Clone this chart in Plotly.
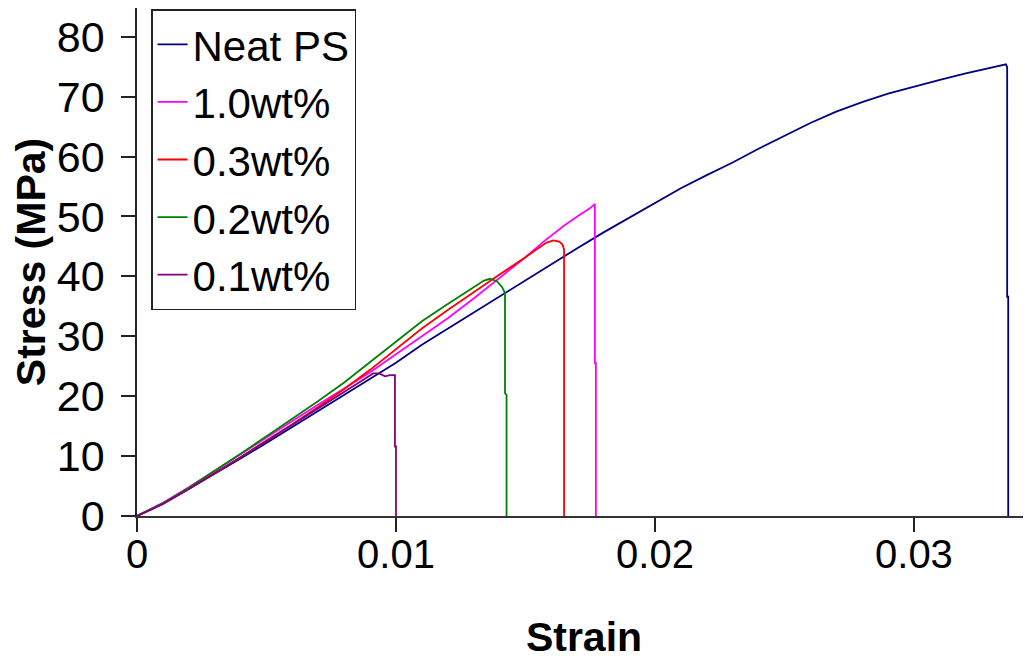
import plotly.graph_objects as go

# ---- data ----
neat_strain = [0, 0.001, 0.002, 0.003, 0.004, 0.005, 0.006, 0.007, 0.008, 0.009, 0.010,
               0.011, 0.012, 0.013, 0.014, 0.015, 0.016, 0.017, 0.018, 0.019, 0.020,
               0.021, 0.022, 0.023, 0.024, 0.025, 0.026, 0.027, 0.028, 0.029, 0.030,
               0.031, 0.032, 0.033, 0.0335, 0.03355, 0.0336, 0.0336, 0.03364, 0.03364]
neat_stress = [0, 2.1, 4.5, 7.0, 9.6, 12.2, 14.9, 17.6, 20.3, 23.0, 25.6,
               28.6, 31.3, 34.0, 36.7, 39.4, 42.0, 44.7, 47.3, 49.8, 52.3,
               54.7, 56.9, 59.0, 61.3, 63.5, 65.6, 67.5, 69.1, 70.5, 71.7,
               72.8, 73.9, 74.8, 75.3, 75.4, 74.9, 36.6, 36.6, 0]

wt10_strain = [0, 0.001, 0.002, 0.003, 0.004, 0.005, 0.006, 0.007, 0.008, 0.009, 0.010,
               0.011, 0.012, 0.013, 0.014, 0.015, 0.0157, 0.0165, 0.017, 0.0175, 0.01768,
               0.01768, 0.01772, 0.01772]
wt10_stress = [0, 2.2, 4.8, 7.5, 10.3, 13.1, 15.9, 18.6, 21.3, 24.0, 27.0,
               30.0, 33.0, 36.3, 39.7, 43.2, 45.8, 48.5, 50.0, 51.4, 52.1,
               25.5, 25.5, 0]

wt03_strain = [0, 0.001, 0.002, 0.003, 0.004, 0.005, 0.006, 0.007, 0.008, 0.009, 0.010,
               0.011, 0.012, 0.013, 0.014, 0.015, 0.0155, 0.0158, 0.01607, 0.0163, 0.01643,
               0.01649, 0.01649]
wt03_stress = [0, 2.0, 4.5, 7.1, 9.8, 12.6, 15.3, 18.2, 21.2, 24.4, 27.8,
               31.3, 34.4, 37.4, 40.3, 43.2, 44.7, 45.6, 46.0, 45.8, 45.3,
               44.5, 0]

wt02_strain = [0, 0.001, 0.002, 0.003, 0.004, 0.005, 0.006, 0.007, 0.008, 0.009, 0.010,
               0.011, 0.012, 0.0125, 0.013, 0.0134, 0.01363, 0.0139, 0.0141, 0.01421,
               0.01421, 0.01427, 0.01427]
wt02_stress = [0, 2.1, 4.7, 7.5, 10.4, 13.3, 16.2, 19.2, 22.3, 25.7, 29.2,
               32.5, 35.4, 36.8, 38.3, 39.3, 39.6, 39.2, 38.2, 37.2,
               20.5, 20.2, 0]

wt01_strain = [0, 0.001, 0.002, 0.003, 0.004, 0.005, 0.006, 0.007, 0.008, 0.0088, 0.00912,
               0.00935, 0.00958, 0.00977, 0.00996, 0.00996, 0.0100, 0.0100]
wt01_stress = [0, 2.0, 4.5, 7.1, 9.8, 12.5, 15.2, 17.9, 20.7, 22.9, 23.8,
               23.8, 23.3, 23.5, 23.5, 11.6, 11.6, 0]

series_names = ["Neat PS", "1.0wt%", "0.3wt%", "0.2wt%", "0.1wt%"]
series_x = [neat_strain, wt10_strain, wt03_strain, wt02_strain, wt01_strain]
series_y = [neat_stress, wt10_stress, wt03_stress, wt02_stress, wt01_stress]
series_colors = ["#000080", "#FF00FF", "#FF0000", "#008000", "#800080"]

x_tick_vals = [0, 0.01, 0.02, 0.03]
x_tick_text = ["0", "0.01", "0.02", "0.03"]
y_tick_vals = [0, 10, 20, 30, 40, 50, 60, 70, 80]

FONT = "Liberation Sans, Arial, sans-serif"

fig = go.Figure()
for name, xs, ys, col in zip(series_names, series_x, series_y, series_colors):
    fig.add_trace(go.Scatter(x=xs, y=ys, mode="lines", name=name, legendgroup=name,
                             line=dict(color=col, width=1.8)))

# the page body adds an 8px offset, so the figure is sized to fit the window
fig.update_layout(
    width=1023, height=652,
    paper_bgcolor="white", plot_bgcolor="white",
    margin=dict(l=129, r=0, t=0, b=144, autoexpand=False),
    font=dict(family=FONT, color="black", size=40),
    showlegend=True,
    legend=dict(x=0.0157, y=0.998, xanchor="left", yanchor="top",
                bgcolor="white", bordercolor="#222222", borderwidth=1.5,
                font=dict(family=FONT, size=42, color="black"),
                tracegroupgap=9, traceorder="normal", entrywidth=232),
    xaxis=dict(range=[0, 0.03452], tickvals=x_tick_vals, ticktext=x_tick_text,
               automargin=False,
               showgrid=False, zeroline=False, showline=True, linecolor="#333333", linewidth=1.5,
               ticks="outside", ticklen=14, tickwidth=1.5, tickcolor="#222222",
               tickfont=dict(family=FONT, size=40), ticklabelstandoff=-12,
               title=dict(text="<b>Strain</b>", font=dict(family=FONT, size=41), standoff=49)),
    yaxis=dict(range=[0, 84.8], tickvals=y_tick_vals,
               automargin=False,
               showgrid=False, zeroline=False, showline=True, linecolor="#222222", linewidth=1.5,
               ticks="outside", ticklen=14, tickwidth=1.5, tickcolor="#222222",
               tickfont=dict(family=FONT, size=43), ticklabelstandoff=8,
               title=dict(text="<b>Stress (MPa)</b>", font=dict(family=FONT, size=41), standoff=0)),
)

fig.write_html("out.html")
